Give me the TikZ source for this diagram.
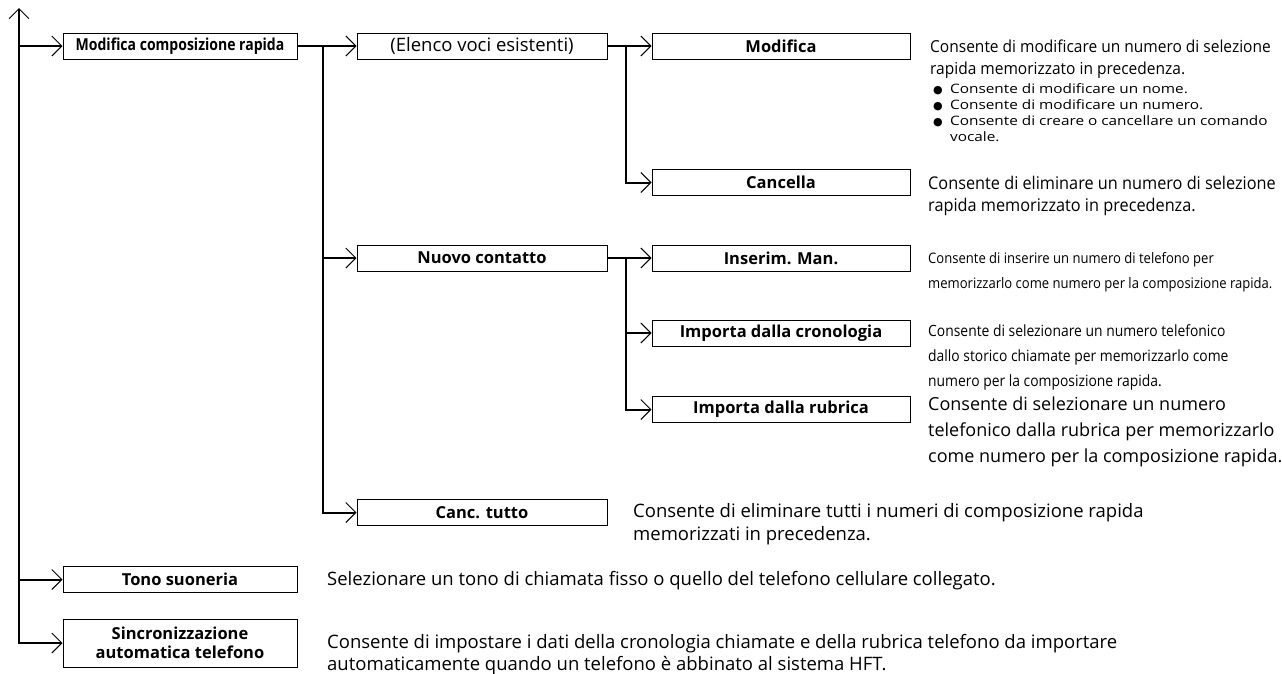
\documentclass[tikz,border=0pt]{standalone}
\usepackage{fontspec}
\setmainfont{Open Sans}
\newfontfamily\fModDesc[FakeStretch=0.94]{Open Sans}
\newfontfamily\fBullet[FakeStretch=1.18]{Open Sans}
\newfontfamily\fCanDesc[FakeStretch=0.93]{Open Sans}
\newfontfamily\fInsDesc[FakeStretch=0.9]{Open Sans}
\newfontfamily\fCronDesc[FakeStretch=0.895]{Open Sans}
\newfontfamily\fCondBold[FakeStretch=0.85]{Open Sans}
\newfontfamily\symfont{DejaVu Sans}
\usetikzlibrary{arrows.meta}
\newcommand{\blt}{\makebox[17pt][l]{\symfont\fontsize{11}{11}\selectfont ●}}
\begin{document}
\begin{tikzpicture}[x=1pt,y=-1pt,
  box/.style={draw, line width=1pt, inner sep=0pt, minimum height=26pt, align=center,
    font=\fontsize{16.5}{19}\selectfont\bfseries},
  lbox/.style={box, minimum width=234pt},
  mbox/.style={box, minimum width=250pt},
  rbox/.style={box, minimum width=258pt},
  conn/.style={line width=2pt},
  arr/.style={conn, -{Straight Barb[length=10pt,width=20pt,line width=1pt]}},
  arrboth/.style={conn, {Straight Barb[length=10pt,width=20pt,line width=1pt]}-{Straight Barb[length=10pt,width=20pt,line width=1pt]}},
  desc/.style={anchor=north west, inner sep=0pt, align=left},
]
\useasboundingbox (0,0) rectangle (1282,673);

% boxes
\node[lbox, font=\fCondBold\fontsize{16.5}{19}\selectfont\bfseries] (mcr) at (180,46) {Modifica composizione rapida};
\node[mbox, font=\fontsize{18.5}{20}\selectfont] (elenco) at (482,46) {(Elenco voci esistenti)};
\node[rbox] (modifica) at (781,46) {Modifica};
\node[rbox] (cancella) at (781,182.5) {Cancella};
\node[mbox] (nuovo) at (482,258) {Nuovo contatto};
\node[rbox] (inserim) at (781,258) {Inserim. Man.};
\node[rbox] (cron) at (781,333) {Importa dalla cronologia};
\node[rbox] (rubrica) at (781,409.5) {Importa dalla rubrica};
\node[mbox] (canctutto) at (482,512.5) {Canc. tutto};
\node[lbox] (tono) at (180,579.5) {Tono suoneria};
\node[lbox, minimum height=48pt] (sinc) at (180,643) {Sincronizzazione\\automatica telefono};

% connectors
\coordinate (top) at (19,8);
\coordinate (j1) at (323,46);
\coordinate (j2) at (626,46);
\coordinate (j3) at (626,258);

\draw[arrboth] (top) -- (top |- sinc.west) -- (sinc.west);
\draw[arr] (top |- mcr.west) -- (mcr.west);
\draw[arr] (top |- tono.west) -- (tono.west);

\draw[arr] (mcr.east) -- (elenco.west);
\draw[arr] (j1) -- (j1 |- canctutto.west) -- (canctutto.west);
\draw[arr] (j1 |- nuovo.west) -- (nuovo.west);

\draw[arr] (elenco.east) -- (modifica.west);
\draw[arr] (j2) -- (j2 |- cancella.west) -- (cancella.west);

\draw[arr] (nuovo.east) -- (inserim.west);
\draw[arr] (j3) -- (j3 |- rubrica.west) -- (rubrica.west);
\draw[arr] (j3 |- cron.west) -- (cron.west);

% descriptions
\node[desc, font=\fModDesc\fontsize{16.5}{22}\selectfont] (dmod) at (930,39.5)
  {Consente di modificare un numero di selezione\\rapida memorizzato in precedenza.};
\node[desc, font=\fBullet\fontsize{13}{16}\selectfont] (dmodb) at (933,83.2)
  {\blt Consente di modificare un nome.\\
   \blt Consente di modificare un numero.\\
   \blt Consente di creare o cancellare un comando\\
   \hspace*{17pt}vocale.};
\node[desc, font=\fCanDesc\fontsize{17.5}{22}\selectfont] (dcan) at (928,176)
  {Consente di eliminare un numero di selezione\\rapida memorizzato in precedenza.};
\node[desc, font=\fInsDesc\fontsize{14.5}{25}\selectfont] (dins) at (928,252.5)
  {Consente di inserire un numero di telefono per\\memorizzarlo come numero per la composizione rapida.};
\node[desc, font=\fCronDesc\fontsize{15.5}{25}\selectfont] (dcron) at (928,324)
  {Consente di selezionare un numero telefonico\\dallo storico chiamate per memorizzarlo come\\numero per la composizione rapida.};
\node[desc, font=\fontsize{18}{26}\selectfont] (drub) at (928,397)
  {Consente di selezionare un numero\\telefonico dalla rubrica per memorizzarlo\\come numero per la composizione rapida.};
\node[desc, font=\fontsize{18.5}{23}\selectfont] (dctutto) at (633,503.5)
  {Consente di eliminare tutti i numeri di composizione rapida\\memorizzati in precedenza.};
\node[desc, font=\fontsize{18.5}{23}\selectfont] (dtono) at (327,570.9)
  {Selezionare un tono di chiamata fisso o quello del telefono cellulare collegato.};
\node[desc, font=\fontsize{18.5}{22}\selectfont] (dsinc) at (327,633.9)
  {Consente di impostare i dati della cronologia chiamate e della rubrica telefono da importare\\automaticamente quando un telefono è abbinato al sistema HFT.};
\end{tikzpicture}
\end{document}
